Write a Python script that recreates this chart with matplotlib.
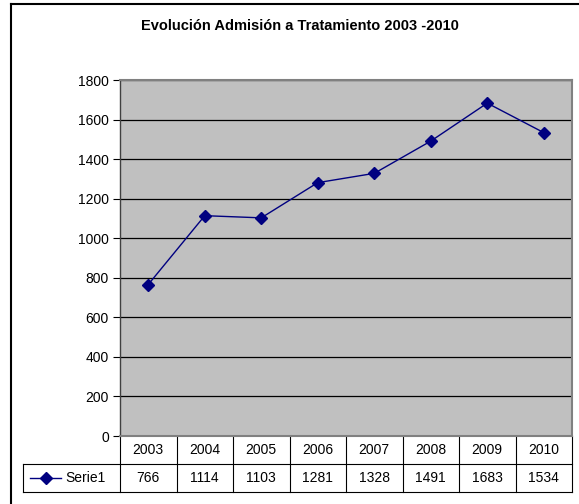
import matplotlib.pyplot as plt
from matplotlib.lines import Line2D

plt.rcParams['font.family'] = ['Liberation Sans', 'DejaVu Sans']

years = ['2003', '2004', '2005', '2006', '2007', '2008', '2009', '2010']
admisiones = [766, 1114, 1103, 1281, 1328, 1491, 1683, 1534]
series_name = 'Serie1'
title = 'Evolución Admisión a Tratamiento 2003 -2010'

W, H = 579, 504
fig = plt.figure(figsize=(W / 100, H / 100), dpi=100)

# plot area in pixels
left, right, top, bottom = 120, 572, 80, 436
ax = fig.add_axes([left / W, 1 - bottom / H, (right - left) / W, (bottom - top) / H])
ax.set_facecolor('#c0c0c0')

x = list(range(len(years)))
ax.plot(x, admisiones, color='#000080', lw=1.0, marker='D', ms=6,
        mfc='#000080', mec='#000080', zorder=3)

ax.set_xlim(-0.5, len(years) - 0.5)
ax.set_ylim(0, 1800)
ax.set_yticks(range(0, 1801, 200))
ax.yaxis.grid(True, color='black', lw=0.9)
ax.set_axisbelow(True)
ax.tick_params(axis='y', labelsize=10, length=5, width=0.8, pad=3, colors='black')
ax.set_xticks([])
for s in ['top', 'right', 'bottom']:
    ax.spines[s].set_color('#808080')
    ax.spines[s].set_linewidth(1.5)
ax.spines['left'].set_color('#404040')
ax.spines['left'].set_linewidth(1.0)

# data table under the plot
row_h = 28 / (bottom - top)
legend_left = (23 - left) / (right - left)
tr = ax.get_xaxis_transform()
kw = dict(transform=tr, clip_on=False, color='black', lw=0.8)
for k in (1, 2):
    ax.plot([legend_left, 1], [-k * row_h, -k * row_h], transform=ax.transAxes,
            clip_on=False, color='black', lw=0.8)
ax.plot([legend_left, legend_left], [-row_h, -2 * row_h], transform=ax.transAxes,
        clip_on=False, color='black', lw=0.8)
for i in range(len(years) + 1):
    ax.plot([i - 0.5, i - 0.5], [0, -2 * row_h], **kw)
for i, (yr, v) in enumerate(zip(years, admisiones)):
    ax.text(i, -0.5 * row_h, yr, transform=tr, ha='center', va='center', fontsize=10)
    ax.text(i, -1.5 * row_h, str(v), transform=tr, ha='center', va='center', fontsize=10)

# legend key in the table
ax.add_line(Line2D([legend_left + 0.015, legend_left + 0.085], [-1.5 * row_h] * 2,
                   transform=ax.transAxes, clip_on=False, color='#000080', lw=1.0))
ax.add_line(Line2D([legend_left + 0.05], [-1.5 * row_h], transform=ax.transAxes, clip_on=False,
                   marker='D', ms=6, color='#000080'))
ax.text(legend_left + 0.093, -1.5 * row_h, series_name, transform=ax.transAxes,
        ha='left', va='center', fontsize=10)

fig.text(300 / W, 1 - 26 / H, title, ha='center', va='center',
         fontsize=10.5, fontweight='bold')

# chart frame (left and top edges visible)
fig.add_artist(Line2D([11 / W, 11 / W], [0, 1 - 4 / H], color='black', lw=1.5))
fig.add_artist(Line2D([11 / W, 1], [1 - 4 / H, 1 - 4 / H], color='black', lw=1.5))

fig.savefig('out.png', dpi=100)
